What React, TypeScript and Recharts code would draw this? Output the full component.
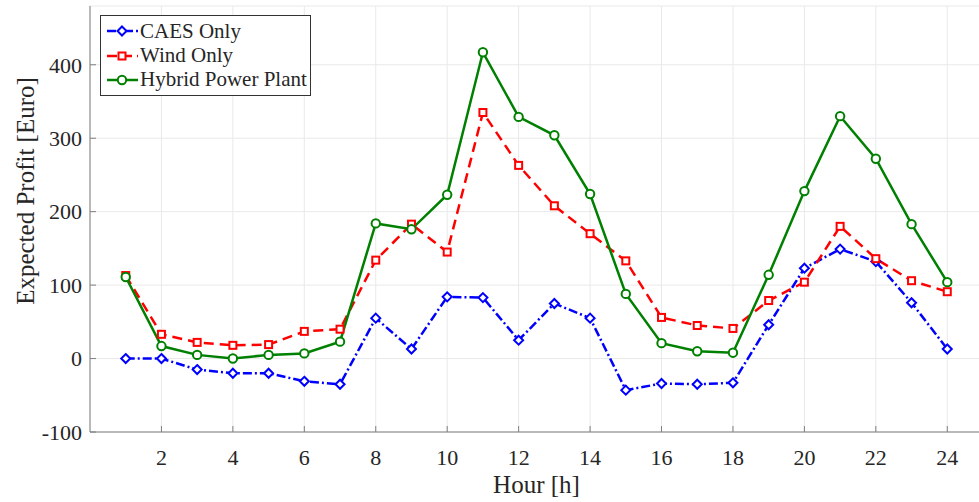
import { LineChart, Line, XAxis, YAxis, CartesianGrid, Legend } from 'recharts';

const hours = [1, 2, 3, 4, 5, 6, 7, 8, 9, 10, 11, 12, 13, 14, 15, 16, 17, 18, 19, 20, 21, 22, 23, 24];
const caesOnly = [0, 0, -15, -20, -20, -31, -35, 55, 13, 84, 83, 25, 75, 55, -43, -34, -35, -33, 46, 123, 149, 132, 76, 13];
const windOnly = [113, 33, 22, 18, 19, 37, 40, 134, 183, 145, 335, 263, 208, 170, 133, 56, 45, 41, 79, 104, 180, 136, 106, 91];
const hybrid = [111, 17, 5, 0, 5, 7, 23, 184, 176, 223, 417, 329, 304, 224, 88, 21, 10, 8, 114, 228, 330, 272, 183, 104];

const xTicks = [2, 4, 6, 8, 10, 12, 14, 16, 18, 20, 22, 24];
const yTicks = [-100, 0, 100, 200, 300, 400];

const data = hours.map((h, i) => ({
  hour: h,
  caes: caesOnly[i],
  wind: windOnly[i],
  hybrid: hybrid[i],
}));

const FONT = '"Liberation Serif", "Times New Roman", serif';
const AXIS = '#7f7f7f';
const TEXT = '#262626';
const BLUE = '#0000ff';
const RED = '#ff0000';
const GREEN = '#008000';

function Diamond(props: any) {
  const { cx, cy, index } = props;
  if (cx == null || cy == null) return <g key={`dm-${index}`} />;
  const s = 4.5;
  return (
    <path
      key={`dm-${index}`}
      d={`M${cx},${cy - s} L${cx + s},${cy} L${cx},${cy + s} L${cx - s},${cy} Z`}
      fill="#fff"
      stroke={BLUE}
      strokeWidth={2}
    />
  );
}

function Square(props: any) {
  const { cx, cy, index } = props;
  if (cx == null || cy == null) return <g key={`sq-${index}`} />;
  const s = 3.5;
  return (
    <rect key={`sq-${index}`} x={cx - s} y={cy - s} width={s * 2} height={s * 2}
      fill="#fff" stroke={RED} strokeWidth={2} />
  );
}

function Circle(props: any) {
  const { cx, cy, index } = props;
  if (cx == null || cy == null) return <g key={`ci-${index}`} />;
  return <circle key={`ci-${index}`} cx={cx} cy={cy} r={4.2} fill="#fff" stroke={GREEN} strokeWidth={2} />;
}

const legendItems = [
  { name: 'CAES Only', color: BLUE, dash: '9 3 2 3', marker: 'diamond' },
  { name: 'Wind Only', color: RED, dash: '10 5', marker: 'square' },
  { name: 'Hybrid Power Plant', color: GREEN, dash: undefined, marker: 'circle' },
];

function LegendBox() {
  return (
    <div
      style={{
        border: '1px solid #333',
        background: '#fff',
        padding: '3px 3px 3px 6px',
        fontFamily: FONT,
        fontSize: 21,
        color: TEXT,
      }}
    >
      {legendItems.map((it) => (
        <div key={it.name} style={{ display: 'flex', alignItems: 'center', height: 24.4 }}>
          <svg width={31} height={20} style={{ display: 'block' }}>
            <line x1={0} y1={10} x2={31} y2={10} stroke={it.color} strokeWidth={2.5} strokeDasharray={it.dash} />
            {it.marker === 'diamond' && (
              <path d="M15,5.5 L19.5,10 L15,14.5 L10.5,10 Z" fill="#fff" stroke={it.color} strokeWidth={2} />
            )}
            {it.marker === 'square' && (
              <rect x={11.5} y={6.5} width={7} height={7} fill="#fff" stroke={it.color} strokeWidth={2} />
            )}
            {it.marker === 'circle' && <circle cx={15} cy={10} r={4.2} fill="#fff" stroke={it.color} strokeWidth={2} />}
          </svg>
          <span style={{ marginLeft: 2, whiteSpace: 'nowrap' }}>{it.name}</span>
        </div>
      ))}
    </div>
  );
}

const tickStyle = { fontFamily: FONT, fontSize: 22, fill: TEXT };

export default function App() {
  return (
    <div style={{ position: 'absolute', left: 0, top: 0, width: 979, height: 502, overflow: 'hidden', background: '#fff' }}>
      <LineChart width={990} height={502} data={data} margin={{ top: 6, right: 7, bottom: 0, left: 0 }}>
        <CartesianGrid stroke="#e9e9e9" strokeWidth={1} />
        <XAxis
          dataKey="hour"
          type="number"
          domain={[0, 25]}
          ticks={xTicks}
          height={70}
          stroke={AXIS}
          tickSize={-6}
          tickMargin={23}
          tick={tickStyle}
          label={{ value: 'Hour [h]', position: 'insideBottom', offset: 9, style: { fontFamily: FONT, fontSize: 25, fill: TEXT } }}
        />
        <XAxis
          xAxisId="top"
          orientation="top"
          type="number"
          domain={[0, 25]}
          ticks={xTicks}
          height={0}
          stroke={AXIS}
          tickSize={-6}
          tickFormatter={() => ''}
        />
        <YAxis
          type="number"
          domain={[-100, 480]}
          ticks={yTicks}
          width={90}
          stroke={AXIS}
          tickSize={-6}
          tickMargin={14}
          tick={tickStyle}
          label={{
            content: (p: any) => {
              const vb = p.viewBox || {};
              const x = 25;
              const y = 191;
              return (
                <text x={x} y={y} transform={`rotate(-90 ${x} ${y})`} textAnchor="middle" dominantBaseline="central"
                  style={{ fontFamily: FONT, fontSize: 25, fill: TEXT }}>
                  Expected Profit [Euro]
                </text>
              );
            },
          }}
        />
        <YAxis
          yAxisId="right"
          orientation="right"
          type="number"
          domain={[-100, 480]}
          ticks={yTicks}
          width={0}
          stroke={AXIS}
          tickSize={-6}
          tickFormatter={() => ''}
        />
        <Legend
          layout="vertical"
          align="center"
          verticalAlign="middle"
          content={() => <LegendBox />}
          wrapperStyle={{ left: 100, top: 15, width: 'auto', height: 'auto' }}
        />
        <Line
          dataKey="caes"
          name="CAES Only"
          stroke={BLUE}
          strokeWidth={2.5}
          strokeDasharray="9 3 2 3"
          dot={Diamond}
          isAnimationActive={false}
        />
        <Line
          dataKey="wind"
          name="Wind Only"
          stroke={RED}
          strokeWidth={2.5}
          strokeDasharray="10 6"
          dot={Square}
          isAnimationActive={false}
        />
        <Line
          dataKey="hybrid"
          name="Hybrid Power Plant"
          stroke={GREEN}
          strokeWidth={2.5}
          dot={Circle}
          isAnimationActive={false}
        />
      </LineChart>
    </div>
  );
}
